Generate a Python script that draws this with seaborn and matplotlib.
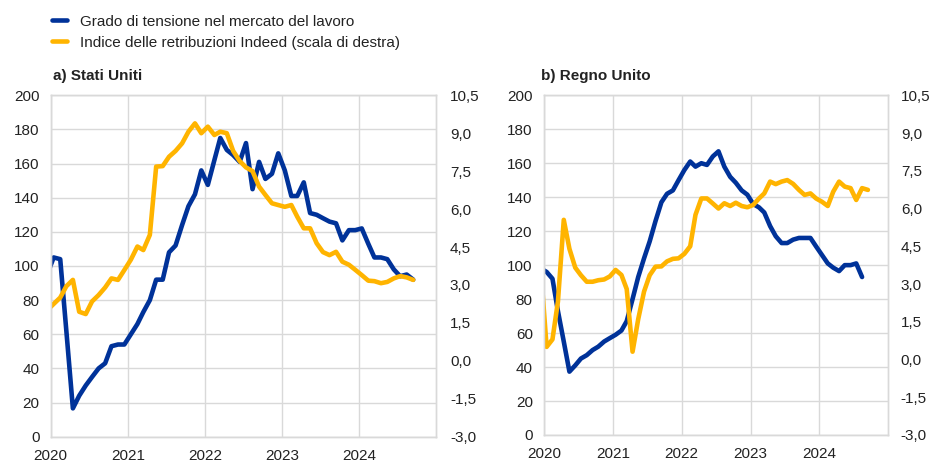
import matplotlib
matplotlib.use("Agg")
import matplotlib.pyplot as plt
import matplotlib.dates as mdates
from matplotlib.ticker import FuncFormatter, MultipleLocator
import seaborn as sns
import pandas as pd

# monthly values, Dec 2019 onwards (Dec 2019 point is clipped at the left edge)
us_tight = [95, 105, 104, 62, 16.6, 24, 30, 35, 40, 43, 53, 54, 54, 60, 66, 73, 80, 92, 92,
            108, 112, 124, 135, 142, 156, 147.5, 162, 175, 168, 165, 161, 172, 145, 161, 151,
            154, 166, 156, 141, 141, 149, 131, 130, 128, 126, 125, 115, 121, 121, 122, 113,
            105, 105, 104, 98, 94, 95, 92]
us_wage = [2.0, 2.25, 2.5, 2.95, 3.2, 1.94, 1.85, 2.35, 2.6, 2.9, 3.26, 3.2, 3.59, 4.0, 4.52,
           4.38, 4.98, 7.68, 7.7, 8.07, 8.3, 8.6, 9.06, 9.39, 9.0, 9.26, 8.93, 9.06, 9.0, 8.3,
           7.9, 7.65, 7.5, 6.89, 6.56, 6.23, 6.16, 6.09, 6.16, 5.7, 5.24, 5.24, 4.65, 4.3, 4.18,
           4.31, 3.92, 3.8, 3.6, 3.39, 3.17, 3.15, 3.07, 3.12, 3.26, 3.35, 3.3, 3.2]
uk_tight = [98, 96, 92, 73, 55, 37.3, 41, 45, 47, 50, 52, 55, 57, 59, 61.5, 67, 80, 93, 104,
            114, 126, 137, 142, 144, 150, 156, 161, 158, 160, 159, 164, 167, 158, 152, 148.5,
            144, 141.5, 136, 134, 131, 123, 117, 113, 113, 115, 116, 116, 116, 111, 106, 101,
            98.5, 96.5, 100, 100, 101, 93]
uk_wage = [3.6, 0.5, 0.8, 2.3, 5.55, 4.4, 3.65, 3.35, 3.09, 3.09, 3.15, 3.18, 3.3, 3.56, 3.36,
           2.8, 0.31, 1.6, 2.7, 3.35, 3.69, 3.7, 3.9, 4.0, 4.02, 4.2, 4.5, 5.75, 6.4, 6.4, 6.2,
           6.0, 6.21, 6.1, 6.23, 6.1, 6.05, 6.14, 6.4, 6.6, 7.07, 6.97, 7.07, 7.13, 6.98, 6.74,
           6.54, 6.6, 6.4, 6.27, 6.1, 6.67, 7.07, 6.87, 6.81, 6.34, 6.81, 6.74]

year_ticks = ["2020", "2021", "2022", "2023", "2024"]
series_names = ["Grado di tensione nel mercato del lavoro",
                "Indice delle retribuzioni Indeed (scala di destra)"]
panel_titles = ["a) Stati Uniti", "b) Regno Unito"]


def months(n):
    return pd.date_range("2019-12-01", periods=n, freq="MS") + pd.Timedelta(days=14)


BLUE = "#003299"
YELLOW = "#FFB400"
GRID = "#d9d9d9"
TXT = "#222222"

sns.set_theme(style="whitegrid")
plt.rcParams['font.family'] = ['Liberation Sans', 'DejaVu Sans']
plt.rcParams['axes.unicode_minus'] = False

fig = plt.figure(figsize=(9.31, 4.63), dpi=100)
ax_us = fig.add_axes([0.0545, 0.0568, 0.4138, 0.7374])
ax_uk = fig.add_axes([0.5843, 0.0605, 0.3698, 0.7337])

comma = FuncFormatter(lambda v, p: f"{v:.1f}".replace(".", ","))


def draw(ax, tight, wage, title, title_dx, rpad):
    sns.lineplot(x=months(len(tight)), y=tight, ax=ax, color=BLUE, lw=3.3,
                 label=series_names[0], legend=False, solid_joinstyle="round")
    ax2 = ax.twinx()
    sns.lineplot(x=months(len(wage)), y=wage, ax=ax2, color=YELLOW, lw=3.3,
                 label=series_names[1], legend=False, solid_joinstyle="round")

    ax.set_xlim(pd.Timestamp("2020-01-01"), pd.Timestamp("2025-01-01"))
    ax.set_xticks(pd.to_datetime([y + "-01-01" for y in year_ticks]))
    ax.xaxis.set_major_formatter(mdates.DateFormatter("%Y"))
    ax.set_ylim(0, 200)
    ax.yaxis.set_major_locator(MultipleLocator(20))
    ax2.set_ylim(-3, 10.5)
    ax2.yaxis.set_major_locator(MultipleLocator(1.5))
    ax2.yaxis.set_major_formatter(comma)

    ax.grid(True, color=GRID, lw=1)
    ax2.grid(False)
    for a in (ax, ax2):
        a.set_xlabel("")
        a.set_ylabel("")
        for s in a.spines.values():
            s.set_color(GRID)
            s.set_linewidth(1)
    ax.tick_params(axis="both", length=0, labelsize=11, colors=TXT)
    ax.tick_params(axis="y", pad=8)
    ax.tick_params(axis="x", pad=9)
    ax2.tick_params(axis="y", length=0, labelsize=11, colors=TXT, pad=rpad)

    ax.text(title_dx, 1.0565, title, transform=ax.transAxes, ha="left", va="center",
            fontsize=11, fontweight="bold", color=TXT)
    return ax.get_lines()[0], ax2.get_lines()[0]


h1, h2 = draw(ax_us, us_tight, us_wage, panel_titles[0], 0.006, 10)
draw(ax_uk, uk_tight, uk_wage, panel_titles[1], -0.009, 9)

fig.legend([h1, h2], series_names, loc="upper left", bbox_to_anchor=(0.0559, 0.968),
           frameon=False, fontsize=11, handlelength=1.0, handletextpad=0.8,
           labelspacing=0.45, borderpad=0, borderaxespad=0, labelcolor=TXT)

fig.savefig("out.png", dpi=100)
